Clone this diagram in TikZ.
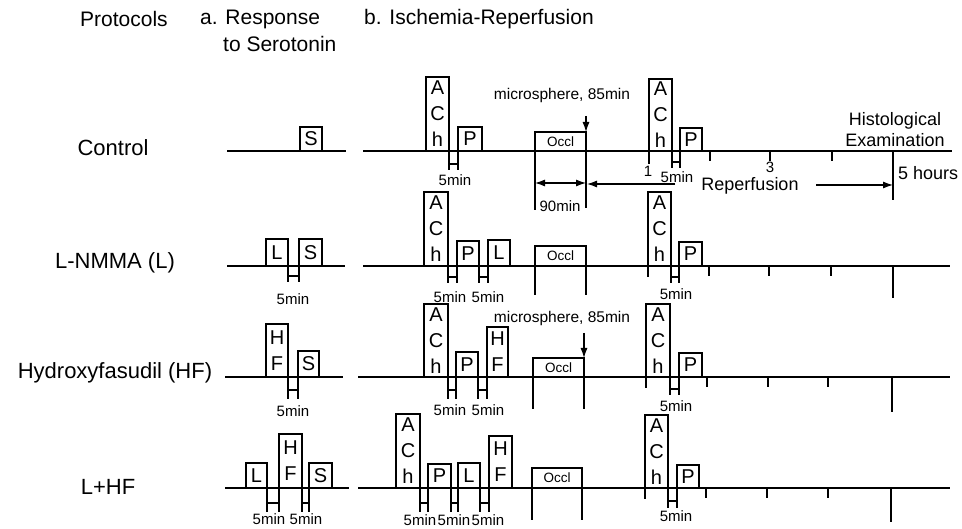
\documentclass[tikz,border=0pt]{standalone}
\usepackage{fontspec}
\setmainfont{Liberation Sans}
\usetikzlibrary{arrows.meta,calc}
\tikzset{
 lbl/.style={font=\fontsize{22}{26}\selectfont, inner sep=0pt},
 hdr/.style={font=\fontsize{21}{25}\selectfont, inner sep=0pt, anchor=west},
 bxs/.style={draw, line width=1.1pt, anchor=south west, inner sep=0pt, outer sep=0pt, align=center, font=\fontsize{20}{26}\selectfont},
 sm/.style={font=\fontsize{15}{18}\selectfont, inner sep=0pt},
 ms/.style={font=\fontsize{15.5}{18}\selectfont, inner sep=0pt},
 md/.style={font=\fontsize{18}{21}\selectfont, inner sep=0pt},
 oc/.style={font=\fontsize{13.5}{16}\selectfont},
 base/.style={line width=1.6pt},
 thin/.style={line width=1.1pt},
 arr/.style={-{Latex[length=10pt,width=7pt]}, line width=1.1pt},
 darr/.style={{Latex[length=10pt,width=7pt]}-{Latex[length=10pt,width=7pt]}, line width=1.1pt},
}
% box: name, x, width, height, baseline y, text
\newcommand\bx[6]{\node[bxs, minimum width=#3pt, minimum height=#4pt] (#1) at (#2,#5) {#6};}
% occl box: name, x, width, height, baseline y
\newcommand\oc[5]{\node[bxs, oc, minimum width=#3pt, minimum height=#4pt] (#1) at (#2,#5) {Occl};}
% 5min marker: left node, right node, length, crossbar, label x, label y, label name
\newcommand\hm[7]{%
 \draw[thin] (#1.south east) -- ++(0,#3) (#2.south west) -- ++(0,#3)
   ([yshift=-#4pt]#1.south east) -- ([yshift=-#4pt]#2.south west);
 \node[sm] (#7) at (#5,#6) {5min};}
\begin{document}
\begin{tikzpicture}[x=1pt,y=-1pt]
\fill[white] (0,0) rectangle (962,529);
\useasboundingbox (0,0) rectangle (962,529);

% headers
\node[hdr] (hP) at (80,19) {Protocols};
\node[hdr] (hA) at (200,19) {a. Response};
\node[hdr] (hA2) at (223,44) {to Serotonin};
\node[hdr] (hB) at (364,19) {b. Ischemia-Reperfusion};

% row labels
\node[lbl] (lc) at (113,148) {Control};
\node[lbl] (ll) at (115,263) {L-NMMA (L)};
\node[lbl] (lh) at (115,373) {Hydroxyfasudil (HF)};
\node[lbl] (llh) at (108,487) {L+HF};

%% Row 1 : Control
\draw[base] (227,151) -- (346,151);
\bx{r1s}{300}{22}{24}{151}{S}
\draw[base] (363,151) -- (952,151);
\bx{r1a}{426}{23}{74}{151}{A\\C\\h}
\bx{r1p}{458}{24}{24}{151}{P}
\hm{r1a}{r1p}{19}{13}{455}{180}{r1m1}
\oc{r1o}{535}{51}{19}{151}
\draw[thin] (r1o.south west) -- ++(0,59);
\draw[thin] (r1o.south east) -- ++(0,57);
\draw[darr] ([yshift=-32pt]r1o.south west) -- ([yshift=-32pt]r1o.south east);
\node[sm] (r1n90) at (560,206) {90min};
\node[ms] (r1ms) at (562,95) {microsphere, 85min};
\coordinate (r1mt) at (586,116);
\draw[arr] (r1mt) -- (r1o.north east);
\node[md] (rep) at (750,186) {Reperfusion};
\coordinate (repL0) at (675,184);
\coordinate (repL1) at (587,184);
\draw[arr] (repL0) -- (repL1);
\coordinate (repR0) at (816,185);
\coordinate (repR1) at (893,185);
\draw[arr] (repR0) -- (repR1);
\bx{r1a2}{649}{23}{72}{151}{A\\C\\h}
\bx{r1p2}{680}{22}{23}{151}{P}
\hm{r1a2}{r1p2}{17}{11}{677}{177}{r1m2}
\draw[thin] (r1a2.south west) -- ++(0,13);
\foreach \t in {710,770,832} \draw[thin] (\t,151) -- (\t,161);
\draw[thin] (893,151) -- (893,200);
\node[sm] (r1t1) at (648,171) {1};
\node[sm] (r1t3) at (770,167) {3};
\node[md, anchor=west] (r1t5) at (898,173) {5 hours};
\node[md, align=center] (hist) at (895,130) {Histological\\Examination};

%% Row 2 : L-NMMA
\draw[base] (227,266) -- (345,266);
\bx{r2l}{266}{22}{27}{266}{L}
\bx{r2s}{299}{23}{27}{266}{S}
\hm{r2l}{r2s}{16}{10}{293}{299}{r2m0}
\draw[base] (363,266) -- (950,266);
\bx{r2a}{424}{24}{74}{266}{A\\C\\h}
\bx{r2p}{457}{22}{25}{266}{P}
\bx{r2l2}{488}{22}{26}{266}{L}
\hm{r2a}{r2p}{17}{11}{450}{297}{r2m1}
\hm{r2p}{r2l2}{17}{11}{488}{297}{r2m2}
\oc{r2o}{535}{51}{20}{266}
\draw[thin] (r2o.south west) -- ++(0,29);
\draw[thin] (r2o.south east) -- ++(0,29);
\bx{r2a2}{648}{23}{74}{266}{A\\C\\h}
\bx{r2p2}{679}{23}{24}{266}{P}
\hm{r2a2}{r2p2}{17}{11}{676}{294}{r2m3}
\draw[thin] (r2a2.south west) -- ++(0,11);
\foreach \t in {709,769,831} \draw[thin] (\t,266) -- (\t,276);
\draw[thin] (893,266) -- (893,298);

%% Row 3 : Hydroxyfasudil
\draw[base] (225,377) -- (343,377);
\bx{r3h}{266}{22}{53}{377}{H\\F}
\bx{r3s}{298}{21}{26}{377}{S}
\hm{r3h}{r3s}{22}{13}{293}{411}{r3m0}
\draw[base] (358,377) -- (950,377);
\bx{r3a}{424}{24}{73}{377}{A\\C\\h}
\bx{r3p}{456}{22}{25}{377}{P}
\bx{r3h2}{487}{21}{50}{377}{H\\F}
\hm{r3a}{r3p}{22}{13}{450}{410}{r3m1}
\hm{r3p}{r3h2}{22}{13}{488}{410}{r3m2}
\oc{r3o}{533}{51}{19}{377}
\draw[thin] (r3o.south west) -- ++(0,32);
\draw[thin] (r3o.south east) -- ++(0,32);
\node[ms] (r3ms) at (562,318) {microsphere, 85min};
\coordinate (r3mt) at (584,333);
\draw[arr] (r3mt) -- (r3o.north east);
\bx{r3a2}{646}{24}{73}{377}{A\\C\\h}
\bx{r3p2}{679}{23}{24}{377}{P}
\hm{r3a2}{r3p2}{18}{12}{676}{406}{r3m3}
\draw[thin] (r3a2.south west) -- ++(0,11);
\foreach \t in {707,768,828} \draw[thin] (\t,377) -- (\t,387);
\draw[thin] (892,377) -- (892,412);

%% Row 4 : L+HF
\draw[base] (225,488) -- (349,488);
\bx{r4l}{246}{21}{25}{488}{L}
\bx{r4h}{279}{23}{54}{488}{H\\F}
\bx{r4s}{309}{23}{25}{488}{S}
\hm{r4l}{r4h}{24}{15}{269}{519}{r4m0}
\hm{r4h}{r4s}{24}{15}{306}{519}{r4m1}
\draw[base] (358,488) -- (950,488);
\bx{r4a}{396}{24}{74}{488}{A\\C\\h}
\bx{r4p}{428}{23}{24}{488}{P}
\bx{r4l2}{458}{22}{25}{488}{L}
\bx{r4h2}{489}{23}{52}{488}{H\\F}
\hm{r4a}{r4p}{24}{15}{420}{520}{r4m2}
\hm{r4p}{r4l2}{24}{15}{454}{520}{r4m3}
\hm{r4l2}{r4h2}{24}{15}{488}{520}{r4m4}
\oc{r4o}{532}{50}{20}{488}
\draw[thin] (r4o.south west) -- ++(0,32);
\draw[thin] (r4o.south east) -- ++(0,32);
\bx{r4a2}{645}{23}{73}{488}{A\\C\\h}
\bx{r4p2}{677}{22}{23}{488}{P}
\hm{r4a2}{r4p2}{20}{13}{676}{516}{r4m5}
\draw[thin] (r4a2.south west) -- ++(0,11);
\foreach \t in {706,767,828} \draw[thin] (\t,488) -- (\t,498);
\draw[thin] (891,488) -- (891,522);
\end{tikzpicture}
\end{document}
